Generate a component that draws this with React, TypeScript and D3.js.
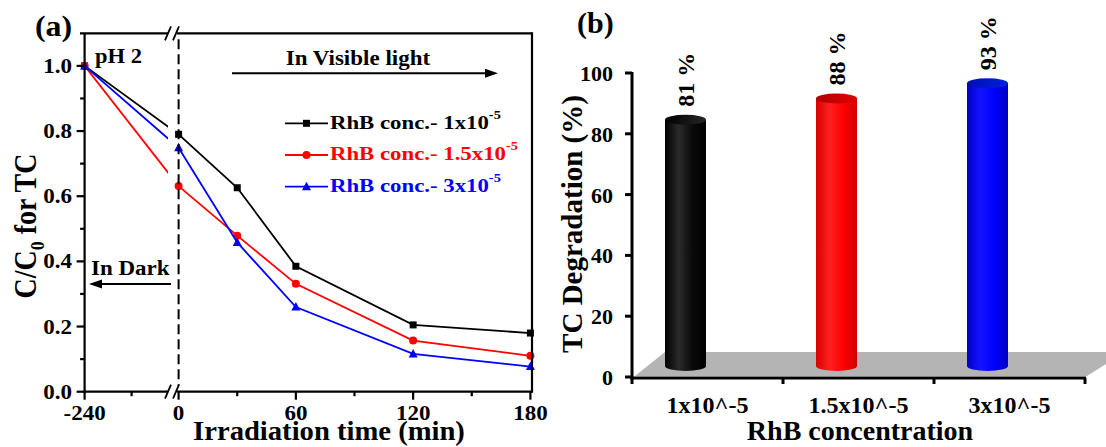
import React from 'react';
import * as d3 from 'd3';

// ---------- Panel (a) data ----------
const times = [-240, 0, 30, 60, 120, 180];
const seriesLabels = ['RhB conc.- 1x10', 'RhB conc.- 1.5x10', 'RhB conc.- 3x10'];
const seriesColors = ['#000000', '#ff0000', '#0000ff'];
const seriesMarkers = ['square', 'circle', 'triangle'];
const conc1 = [1.0, 0.79, 0.626, 0.385, 0.205, 0.18];
const conc15 = [1.0, 0.631, 0.479, 0.331, 0.157, 0.11];
const conc3 = [1.0, 0.749, 0.458, 0.26, 0.116, 0.077];
const xTicksA = [-240, 0, 60, 120, 180];
const xMinorA = [-120, 30, 90, 150];
const yTicksA = [0, 0.2, 0.4, 0.6, 0.8, 1.0];
const yMinorA = [0.1, 0.3, 0.5, 0.7, 0.9];

// ---------- Panel (b) data ----------
const categories = ['1x10^-5', '1.5x10^-5', '3x10^-5'];
const degradation = [81, 88, 93];
const barColors = ['black', 'red', 'blue'];
const yTicksB = [0, 20, 40, 60, 80, 100];

const FONT = "'Liberation Serif', 'Times New Roman', serif";

function T(props: any) {
  const { x, y, sx = 1, sy = 1, size, anchor = 'start', fill = '#000', weight = 'bold', rotate = 0, dy, children } = props;
  return (
    <text
      transform={`translate(${x},${y}) rotate(${rotate}) scale(${sx},${sy})`}
      fontSize={size}
      textAnchor={anchor}
      fill={fill}
      fontWeight={weight}
      fontFamily={FONT}
      dy={dy}
    >
      {children}
    </text>
  );
}

function Marker({ type, x, y, color }: any) {
  if (type === 'square') return <rect x={x - 3.5} y={y - 3.5} width={7} height={7} fill={color} />;
  if (type === 'circle') return <circle cx={x} cy={y} r={4} fill={color} />;
  return <path d={`M${x},${y - 5} L${x + 4.5},${y + 3.5} L${x - 4.5},${y + 3.5} Z`} fill={color} />;
}

export default function App() {
  // ---- Panel (a) scales ----
  const aLeft = 84.6, aRight = 532, aTop = 33.3, aBottom = 391.7;
  const xs = d3.scaleLinear().domain([-240, 0, 180]).range([84.6, 178.6, 530.4]);
  const ys = d3.scaleLinear().domain([0, 1.1]).range([aBottom, aTop]);
  const breakL = 168, breakR = 177;
  const allSeries = [conc1, conc15, conc3];
  const line = d3.line<number>().x((_, i) => xs(times[i])).y((d) => ys(d));
  const lineLight = d3.line<[number, number]>().x((d) => xs(d[0])).y((d) => ys(d[1]));

  // ---- Panel (b) scales ----
  const bLeft = 632, bRight = 1085, bAxisY = 378;
  const xb = d3.scaleBand<string>().domain(categories).range([bLeft, bRight]).padding(0);
  const yb = d3.scaleLinear().domain([0, 100]).range([377, 73]);
  const barDx = -22, barDy = -11, barW = 41, ry = 5;

  const grads: Record<string, string[]> = {
    black: ['#000000', '#2a2a2a', '#0a0a0a', '#000000'],
    red: ['#d80000', '#ff2020', '#ff0000', '#d00000'],
    blue: ['#0000c8', '#1414ff', '#0000ff', '#0000c0'],
  };
  const tops: Record<string, string[]> = {
    black: ['#000000', '#262626'],
    red: ['#b00000', '#e00000'],
    blue: ['#0010b0', '#0020e0'],
  };

  return (
    <svg width={1106} height={447} style={{ position: 'absolute', left: 0, top: 0, background: '#fff' }}>
      <defs>
        <clipPath id="darkClip">
          <rect x={aLeft} y={aTop - 20} width={breakL - aLeft} height={aBottom - aTop + 40} />
        </clipPath>
        {Object.keys(grads).map((k) => (
          <linearGradient key={k} id={`g-${k}`} x1="0" x2="1" y1="0" y2="0">
            {grads[k].map((c, i) => (
              <stop key={i} offset={i / (grads[k].length - 1)} stopColor={c} />
            ))}
          </linearGradient>
        ))}
        {Object.keys(tops).map((k) => (
          <linearGradient key={k} id={`t-${k}`} x1="0" x2="1" y1="0" y2="0">
            <stop offset="0" stopColor={tops[k][0]} />
            <stop offset="1" stopColor={tops[k][1]} />
          </linearGradient>
        ))}
      </defs>

      {/* ================= Panel (a) ================= */}
      <T x={35} y={36} size={29} sx={1.1}>(a)</T>

      {/* data: dark phase (clipped before the break) */}
      <g clipPath="url(#darkClip)">
        {allSeries.map((s, si) => (
          <path key={si} d={line(s.slice(0, 2)) || ''} fill="none" stroke={seriesColors[si]} strokeWidth={1.8} />
        ))}
      </g>
      {/* data: light phase */}
      {allSeries.map((s, si) => {
        const pts: [number, number][] = times.map((t, i) => [t, s[i]] as [number, number]).slice(1);
        return (
          <g key={si}>
            <path d={lineLight(pts) || ''} fill="none" stroke={seriesColors[si]} strokeWidth={1.8} />
            {times.map((t, i) => (
              <Marker key={i} type={seriesMarkers[si]} x={xs(t)} y={ys(s[i])} color={seriesColors[si]} />
            ))}
          </g>
        );
      })}

      {/* dashed separator at t = 0 */}
      <line x1={xs(0)} x2={xs(0)} y1={aTop + 6} y2={aBottom - 6} stroke="#000" strokeWidth={2} strokeDasharray="10,5" />

      {/* frame with axis break */}
      <g stroke="#000" strokeWidth={2.2} fill="none">
        <line x1={80} x2={breakL} y1={aTop} y2={aTop} />
        <line x1={breakR} x2={aRight} y1={aTop} y2={aTop} />
        <line x1={aLeft - 1} x2={breakL} y1={aBottom} y2={aBottom} />
        <line x1={breakR} x2={aRight} y1={aBottom} y2={aBottom} />
        <line x1={aLeft} x2={aLeft} y1={aTop} y2={aBottom + 1} />
        <line x1={aRight} x2={aRight} y1={aTop - 1} y2={aBottom + 1} />
        {[aTop, aBottom].map((yy, i) => (
          <g key={i} strokeWidth={1.8}>
            <line x1={breakL - 3} y1={yy + 7} x2={breakL + 3} y2={yy - 7} />
            <line x1={breakR - 4} y1={yy + 7} x2={breakR + 2} y2={yy - 7} />
          </g>
        ))}
        {yTicksA.map((v) => (
          <line key={'ym' + v} x1={aLeft - 8} x2={aLeft} y1={ys(v)} y2={ys(v)} />
        ))}
        {yMinorA.map((v) => (
          <line key={'yn' + v} x1={aLeft - 4.5} x2={aLeft} y1={ys(v)} y2={ys(v)} />
        ))}
        {xTicksA.map((v) => (
          <line key={'xm' + v} x1={xs(v)} x2={xs(v)} y1={aBottom} y2={aBottom + 8} />
        ))}
        {xMinorA.map((v) => (
          <line key={'xn' + v} x1={xs(v)} x2={xs(v)} y1={aBottom} y2={aBottom + 4.5} />
        ))}
      </g>

      {/* tick labels */}
      {yTicksA.map((v) => (
        <T key={'yl' + v} x={72} y={ys(v) + 7} size={20} sx={1.15} anchor="end">{v.toFixed(1)}</T>
      ))}
      {xTicksA.map((v) => (
        <T key={'xl' + v} x={xs(v)} y={420} size={20} sx={1.15} anchor="middle">{String(v)}</T>
      ))}

      {/* axis titles */}
      <T x={329} y={440} size={27} sx={1.06} anchor="middle">Irradiation time (min)</T>
      <T x={36} y={226} size={28} sy={1.1} anchor="middle" rotate={-90}>
        <tspan>C/C</tspan>
        <tspan dy={7} fontSize={18}>0</tspan>
        <tspan dy={-7}> for TC</tspan>
      </T>

      {/* annotations */}
      <T x={95} y={63} size={20} sx={1.13}>pH 2</T>
      <T x={285.7} y={65} size={20} sx={1.15}>In Visible light</T>
      <line x1={232} x2={488} y1={73.3} y2={73.3} stroke="#000" strokeWidth={2} />
      <path d="M498,73.3 L485,68.8 L485,77.8 Z" fill="#000" />
      <T x={91} y={275} size={20} sx={1.15}>In Dark</T>
      <line x1={100} x2={171} y1={284} y2={284} stroke="#000" strokeWidth={2} />
      <path d="M89,284 L102,279.5 L102,288.5 Z" fill="#000" />

      {/* legend */}
      {seriesLabels.map((lab, i) => {
        const ry0 = 123.3 + i * 31.7;
        return (
          <g key={lab}>
            <line x1={285} x2={328} y1={ry0} y2={ry0} stroke={seriesColors[i]} strokeWidth={1.8} />
            <Marker type={seriesMarkers[i]} x={306.5} y={ry0} color={seriesColors[i]} />
            <T x={330} y={ry0 + 5.3} size={19} sx={1.2} fill={seriesColors[i]}>
              <tspan>{lab}</tspan>
              <tspan dy={-10} fontSize={12}>-5</tspan>
            </T>
          </g>
        );
      })}

      {/* ================= Panel (b) ================= */}
      <T x={577} y={33} size={30}>(b)</T>

      {/* floor */}
      <path d={`M${bLeft + 3},${bAxisY - 2} L${bLeft + 33},352 L1125,352 L${bRight + 2},${bAxisY - 2} Z`} fill="#b4b4b4" />

      {/* cylinders */}
      {categories.map((c, i) => {
        const cx = (xb(c) as number) + xb.bandwidth() / 2 + barDx;
        const yTop = yb(degradation[i]) + barDy;
        const yBase = yb(0) + barDy;
        const k = barColors[i];
        return (
          <g key={c}>
            <ellipse cx={cx} cy={yBase} rx={barW / 2} ry={ry} fill={`url(#g-${k})`} />
            <rect x={cx - barW / 2} y={yTop} width={barW} height={yBase - yTop} fill={`url(#g-${k})`} />
            <ellipse cx={cx} cy={yTop} rx={barW / 2} ry={ry} fill={`url(#t-${k})`} />
            <T x={cx} y={yTop - ry - 8} size={24} rotate={-90} dy="0.35em">{`${degradation[i]} %`}</T>
          </g>
        );
      })}

      {/* axes */}
      <g stroke="#000" strokeWidth={3} fill="none">
        <line x1={bLeft} x2={bLeft} y1={yb(100) - 1} y2={bAxisY + 1.5} />
        <line x1={bLeft - 1.5} x2={bRight + 1} y1={bAxisY} y2={bAxisY} />
        {yTicksB.map((v) => (
          <line key={v} x1={bLeft - 7} x2={bLeft} y1={yb(v)} y2={yb(v)} />
        ))}
        {[...categories.map((c) => xb(c) as number), bRight].map((x, i) => (
          <line key={i} x1={x} x2={x} y1={bAxisY} y2={bAxisY + 6} />
        ))}
      </g>
      {yTicksB.map((v) => (
        <T key={'bl' + v} x={613} y={yb(v) + 8} size={22} anchor="end">{String(v)}</T>
      ))}
      {categories.map((c) => (
        <T key={'bc' + c} x={(xb(c) as number) + xb.bandwidth() / 2} y={413} size={24} anchor="middle">{c}</T>
      ))}
      <T x={860} y={440} size={28} anchor="middle">RhB concentration</T>
      <T x={582} y={224} size={29} anchor="middle" rotate={-90}>TC Degradation (%)</T>
    </svg>
  );
}
